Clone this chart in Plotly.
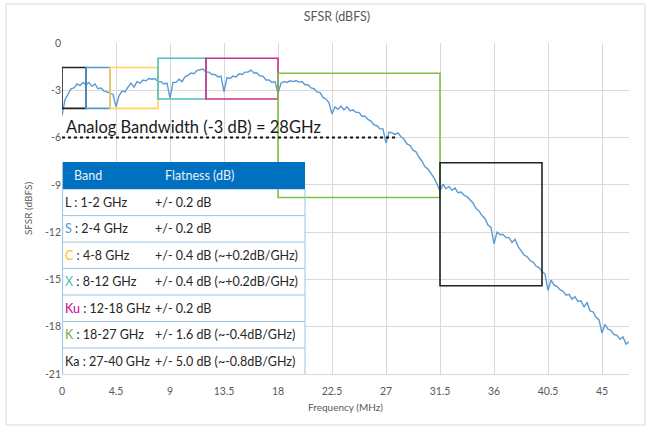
import plotly.graph_objects as go

# ---------------- data ----------------
freq_step = 0.25
sfsr = [
    -4.6, -3.6, -3.25, -2.9, -2.85, -2.6, -2.7, -2.5, -2.65, -2.5, -2.75, -2.6, -2.9, -2.85, -3.05, -3.1, -3.2, -3.25,
    -4.05, -3.35, -3.05, -3.1, -2.8, -2.55, -2.8, -2.45, -2.55, -2.35, -2.4, -2.25, -2.3, -2.25, -2.45, -2.45, -2.6, -2.55,
    -3.5, -2.5, -2.5, -2.3, -2.45, -2.15, -2.05, -1.9, -1.95, -1.75, -1.7, -1.65, -1.85, -1.85, -2.0, -2.0, -2.15, -2.1,
    -3.1, -2.2, -2.25, -2.1, -2.15, -1.95, -2.0, -1.85, -1.85, -1.72, -1.9, -1.9, -2.1, -2.1, -2.35, -2.35, -2.5, -2.45,
    -3.2, -2.55, -2.45, -2.5, -2.4, -2.45, -2.38, -2.48, -2.45, -2.65, -2.65, -2.85, -2.9, -3.1, -3.15, -3.45, -3.55, -3.8,
    -4.5, -4.05, -4.2, -4.0, -4.25, -4.05, -4.3, -4.25, -4.4, -4.4, -4.65, -4.65, -4.85, -4.95, -5.2, -5.25, -5.45, -5.45,
    -6.35, -5.65, -5.7, -5.8, -5.7, -5.95, -6.1, -6.4, -6.5, -6.8, -6.9, -7.25, -7.5, -7.85, -8.0, -8.3, -8.55, -8.95,
    -9.4, -8.95, -9.25, -9.1, -9.35, -9.2, -9.5, -9.45, -9.65, -9.75, -9.95, -10.15, -10.5, -10.65, -10.95, -11.15, -11.55, -11.7,
    -12.75, -12.0, -12.15, -12.15, -12.35, -12.35, -12.65, -12.45, -12.9, -13.15, -13.45, -13.55, -13.8, -13.9, -14.15, -14.25, -14.5, -14.65,
    -15.7, -15.05, -15.35, -15.45, -15.65, -15.75, -16.0, -15.95, -16.25, -16.1, -16.4, -16.35, -16.75, -16.45, -17.0, -17.05, -17.4, -17.55,
    -18.4, -17.85, -18.15, -18.25, -18.5, -18.55, -18.8, -18.65, -19.1, -18.95,
]
freq = [i * freq_step for i in range(len(sfsr))]

x_ticks = [0, 4.5, 9, 13.5, 18, 22.5, 27, 31.5, 36, 40.5, 45]
y_ticks = [0, -3, -6, -9, -12, -15, -18, -21]

# band boxes
box_lo = [0, 2, 4, 8, 12, 18, 31.5]
box_hi = [2, 4, 8, 12, 18, 31.5, 40]
box_top = [-1.55, -1.55, -1.55, -0.97, -0.97, -1.92, -7.6]
box_bot = [-4.15, -4.15, -4.15, -3.55, -3.55, -9.8, -15.4]
box_colors = ["#222222", "#4F98D8", "#FFD35C", "#4DBFC0", "#CC2F8F", "#7CC243", "#222222"]

bw_level = -6
bw_freq = 28
bw_text = "Analog Bandwidth (-3 dB) = 28GHz"

band_names = ["L", "S", "C", "X", "Ku", "K", "Ka"]
band_ranges = [" : 1-2 GHz", " : 2-4 GHz", " : 4-8 GHz", " : 8-12 GHz", " : 12-18 GHz", " : 18-27 GHz", " : 27-40 GHz"]
band_name_colors = ["#222222", "#4F98D8", "#FFC000", "#4DBFC0", "#CC0099", "#70AD47", "#222222"]
flatness = ["+/- 0.2 dB", "+/- 0.2 dB", "+/- 0.4 dB (~+0.2dB/GHz)", "+/- 0.4 dB (~+0.2dB/GHz)",
            "+/- 0.2 dB", "+/- 1.6 dB (~-0.4dB/GHz)", "+/- 5.0 dB (~-0.8dB/GHz)"]

FONT = "Lato"
GRAY = "#595959"
TBL_SIZE = 12.5

fig = go.Figure()
fig.add_trace(go.Scatter(x=freq, y=sfsr, mode="lines",
                         line=dict(color="#5B9BD5", width=1.4), hoverinfo="skip", showlegend=False))

shapes = []
# table geometry (data coords)
tbl_x0, tbl_x1 = 0.05, 20.25
hdr_top, hdr_bot = -7.55, -9.27
row_h = 1.68
tbl_bot = hdr_bot - row_h * len(band_names)

# table body white background
shapes.append(dict(type="rect", xref="x", yref="y", x0=tbl_x0, x1=tbl_x1, y0=tbl_bot, y1=hdr_bot,
                   fillcolor="white", line=dict(width=0), layer="above"))
# band boxes
for lo, hi, t, b, c in zip(box_lo, box_hi, box_top, box_bot, box_colors):
    shapes.append(dict(type="rect", xref="x", yref="y", x0=lo, x1=hi, y0=b, y1=t,
                       line=dict(color=c, width=1.6), fillcolor="rgba(0,0,0,0)", layer="above"))
# row separators
for i in range(1, len(band_names)):
    yy = hdr_bot - row_h * i
    shapes.append(dict(type="line", xref="x", yref="y", x0=tbl_x0, x1=tbl_x1, y0=yy, y1=yy,
                       line=dict(color="#9DC3E6", width=1), layer="above"))
# table outline
shapes.append(dict(type="rect", xref="x", yref="y", x0=tbl_x0, x1=tbl_x1, y0=tbl_bot, y1=hdr_bot,
                   line=dict(color="#9DC3E6", width=1), fillcolor="rgba(0,0,0,0)", layer="above"))
# header
shapes.append(dict(type="rect", xref="x", yref="y", x0=tbl_x0, x1=tbl_x1, y0=hdr_bot, y1=hdr_top,
                   fillcolor="#0070C0", line=dict(width=0), layer="above"))
# bandwidth dotted line
shapes.append(dict(type="line", xref="x", yref="y", x0=0, x1=bw_freq, y0=bw_level, y1=bw_level,
                   line=dict(color="#111111", width=2, dash="dot"), layer="above"))
# chart border
shapes.append(dict(type="rect", xref="paper", yref="paper", x0=-56 / 567, x1=1 + 16 / 567,
                   y0=-51 / 331, y1=1 + 39 / 331, line=dict(color="#D9D9D9", width=1), layer="below"))

annotations = []
annotations.append(dict(xref="x", yref="y", x=0.15, y=bw_level, yshift=11, text=bw_text, showarrow=False,
                        xanchor="left", yanchor="middle", font=dict(family=FONT, size=16.5, color="#1a1a1a")))
hdr_mid = (hdr_top + hdr_bot) / 2
annotations.append(dict(xref="x", yref="y", x=0.8, y=hdr_mid, text="Band", showarrow=False, xanchor="left",
                        font=dict(family=FONT, size=TBL_SIZE, color="#EAF1FA")))
annotations.append(dict(xref="x", yref="y", x=8.4, y=hdr_mid, text="Flatness (dB)", showarrow=False, xanchor="left",
                        font=dict(family=FONT, size=TBL_SIZE, color="#EAF1FA")))
for i, (nm, rg, nc, fl) in enumerate(zip(band_names, band_ranges, band_name_colors, flatness)):
    ymid = hdr_bot - row_h * (i + 0.5)
    annotations.append(dict(xref="x", yref="y", x=0.1, y=ymid,
                            text=f"<span style='color:{nc}'>{nm}</span>{rg}", showarrow=False, xanchor="left",
                            font=dict(family=FONT, size=TBL_SIZE, color="#262626")))
    annotations.append(dict(xref="x", yref="y", x=7.6, y=ymid, text=fl, showarrow=False, xanchor="left",
                            font=dict(family=FONT, size=TBL_SIZE, color="#262626")))

fig.update_layout(
    width=648, height=428,
    margin=dict(l=62, r=19, t=43, b=54),
    paper_bgcolor="white", plot_bgcolor="white",
    title=dict(text="SFSR (dBFS)", x=0.52, xref="container", y=1 - 17 / 428, yref="container",
               xanchor="center", yanchor="middle", font=dict(family=FONT, size=12.5, color=GRAY)),
    xaxis=dict(range=[0, 47.25], tickvals=x_ticks, ticktext=[f"{v:g}" for v in x_ticks],
               showgrid=True, gridcolor="#D9D9D9", gridwidth=1, zeroline=False,
               showline=True, linecolor="#D9D9D9", ticks="", ticklen=0, ticklabelstandoff=7,
               tickfont=dict(family=FONT, size=10.5, color=GRAY),
               title=dict(text="Frequency (MHz)", font=dict(family=FONT, size=10, color=GRAY), standoff=8)),
    yaxis=dict(range=[-21, 0], tickvals=y_ticks, ticktext=[f"{v:g}" for v in y_ticks],
               showgrid=True, gridcolor="#D9D9D9", gridwidth=1, zeroline=False,
               showline=False, ticks="", tickfont=dict(family=FONT, size=10.5, color=GRAY),
               title=dict(text="SFSR (dBFS)", font=dict(family=FONT, size=10, color=GRAY), standoff=10)),
    shapes=shapes, annotations=annotations, showlegend=False,
)

fig.write_html("out.html", config={"displayModeBar": False},
               post_script="document.body.style.margin='0';document.body.style.overflow='hidden';")
